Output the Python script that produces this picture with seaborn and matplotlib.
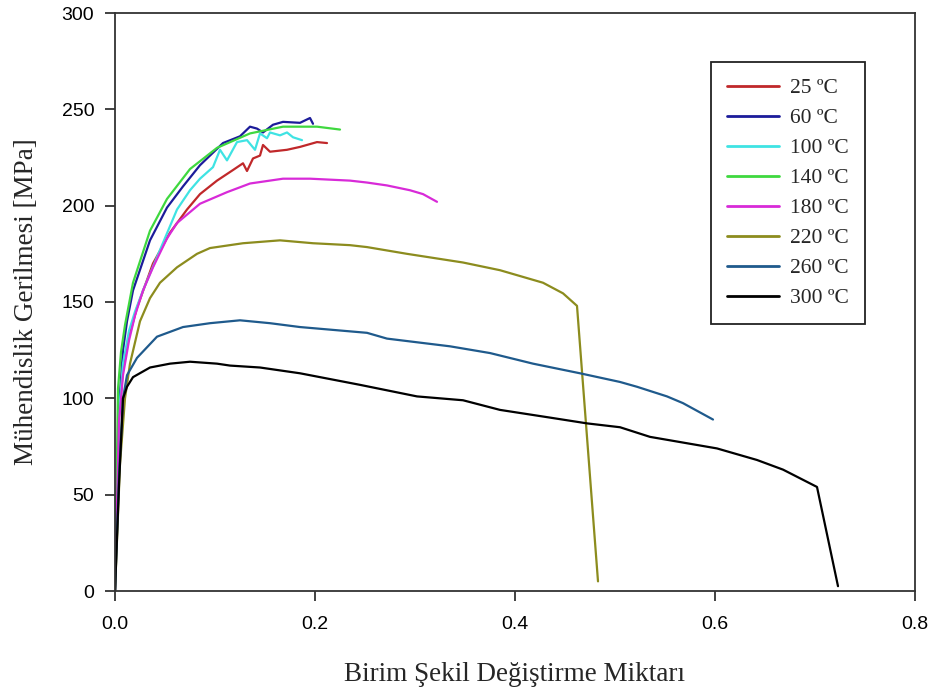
import numpy as np
import pandas as pd
import matplotlib
matplotlib.use("Agg")
import matplotlib.pyplot as plt
import seaborn as sns

# ---------------- data ----------------
labels = ["25 ºC", "60 ºC", "100 ºC", "140 ºC", "180 ºC", "220 ºC", "260 ºC", "300 ºC"]

x25 = [0, 0.004, 0.008, 0.014, 0.022, 0.038, 0.055, 0.072, 0.085, 0.102, 0.118, 0.128, 0.132,
       0.138, 0.145, 0.148, 0.155, 0.172, 0.185, 0.202, 0.212]
y25 = [0, 90, 115, 132, 147, 170, 186, 198, 206, 213, 218.5, 222, 218, 224.5, 226, 231.5, 228,
       229, 230.5, 233, 232.5]

x60 = [0, 0.004, 0.008, 0.012, 0.018, 0.035, 0.052, 0.068, 0.085, 0.108, 0.125, 0.135, 0.142,
       0.148, 0.158, 0.168, 0.185, 0.195, 0.198]
y60 = [0, 95, 125, 140, 156, 182, 199, 210, 221, 232.5, 236, 241, 240, 238, 242, 243.5, 243,
       245.5, 242.5]

x100 = [0, 0.004, 0.008, 0.014, 0.020, 0.028, 0.045, 0.062, 0.075, 0.085, 0.098, 0.105, 0.112,
        0.122, 0.132, 0.140, 0.145, 0.152, 0.155, 0.165, 0.172, 0.178, 0.187]
y100 = [0, 92, 118, 135, 145, 156, 177, 198, 208, 214, 220, 229, 223.5, 233, 234, 229, 237.5,
        235, 238, 236.5, 238, 235.5, 234]

x140 = [0, 0.003, 0.006, 0.010, 0.018, 0.035, 0.052, 0.075, 0.102, 0.135, 0.168, 0.202, 0.225]
y140 = [0, 105, 124, 138, 160, 187, 203.5, 219, 230, 237.5, 241, 241, 239.5]

x180 = [0, 0.004, 0.008, 0.014, 0.020, 0.028, 0.038, 0.052, 0.062, 0.085, 0.112, 0.135, 0.168,
        0.195, 0.235, 0.252, 0.272, 0.295, 0.308, 0.322]
y180 = [0, 88, 112, 130, 143, 156, 168, 183, 191, 201, 207, 211.5, 214, 214, 213, 212, 210.5,
        208, 206, 202]

x220 = [0, 0.005, 0.010, 0.015, 0.025, 0.035, 0.045, 0.062, 0.082, 0.095, 0.128, 0.165, 0.198,
        0.235, 0.252, 0.292, 0.348, 0.385, 0.428, 0.448, 0.462, 0.483]
y220 = [0, 66, 100, 118, 140, 152, 160, 168, 175, 178, 180.5, 182, 180.5, 179.5, 178.5, 175,
        170.5, 166.5, 160, 154.5, 148, 5]

x260 = [0, 0.004, 0.008, 0.012, 0.022, 0.042, 0.068, 0.095, 0.125, 0.155, 0.185, 0.252, 0.272,
        0.335, 0.375, 0.418, 0.465, 0.505, 0.522, 0.552, 0.568, 0.598]
y260 = [0, 60, 100, 112, 121, 132, 137, 139, 140.5, 139, 137, 134, 131, 127, 123.5, 118, 113,
        108.5, 106, 101, 97.5, 89]

x300 = [0, 0.004, 0.008, 0.012, 0.018, 0.035, 0.055, 0.075, 0.102, 0.115, 0.145, 0.185, 0.245,
        0.302, 0.348, 0.385, 0.435, 0.472, 0.505, 0.535, 0.602, 0.642, 0.668, 0.702, 0.723]
y300 = [0, 55, 100, 106, 111, 116, 118, 119, 118, 117, 116, 113, 107, 101, 99, 94, 90, 87, 85,
        80, 74, 68, 63, 54, 2.5]

xs = [x25, x60, x100, x140, x180, x220, x260, x300]
ys = [y25, y60, y100, y140, y180, y220, y260, y300]

colors = ["#c0282a", "#1c1c9a", "#3fe3e3", "#3fd83f", "#d82ad8", "#8c8c1e", "#1f5a8c", "#000000"]

xticks = [0.0, 0.2, 0.4, 0.6, 0.8]
yticks = [0, 50, 100, 150, 200, 250, 300]

# ---------------- build table ----------------
frames = []
for lab, x, y in zip(labels, xs, ys):
    frames.append(pd.DataFrame({"strain": x, "stress": y, "temp": lab}))
df = pd.concat(frames, ignore_index=True)

# ---------------- plot ----------------
sns.set_style("ticks")
plt.rcParams["font.family"] = ["Liberation Sans", "DejaVu Sans"]
serif = ["Liberation Serif", "DejaVu Serif"]

fig = plt.figure(figsize=(9.36, 6.93), dpi=100)
ax = fig.add_axes([115 / 936, 1 - 591 / 693, 800 / 936, 578 / 693])

sns.lineplot(data=df, x="strain", y="stress", hue="temp", hue_order=labels,
             palette=colors, sort=False, estimator=None, linewidth=1.6, ax=ax)

ax.set_xlim(0, 0.8)
ax.set_ylim(0, 300)
ax.set_xticks(xticks)
ax.set_xticklabels([f"{t:.1f}" for t in xticks])
ax.set_yticks(yticks)
ax.set_yticklabels([str(t) for t in yticks])

for s in ax.spines.values():
    s.set_visible(True)
    s.set_color("#333333")
    s.set_linewidth(1.3)

ax.tick_params(axis="x", direction="out", length=7, width=1.3, pad=11, labelsize=14,
               colors="#333333", labelcolor="black")
ax.tick_params(axis="y", direction="out", length=7, width=1.3, pad=8, labelsize=14,
               colors="#333333", labelcolor="black")

ax.set_xlabel("Birim Şekil Değiştirme Miktarı", family=serif, fontsize=19.5, labelpad=21)
ax.set_ylabel("Mühendislik Gerilmesi [MPa]", family=serif, fontsize=19.5, labelpad=16)

handles, labs = ax.get_legend_handles_labels()
for h in handles:
    h.set_linewidth(2)
leg = ax.legend(handles, labs, loc="upper left", bbox_to_anchor=(0.745, 0.915),
                frameon=True, fancybox=False, edgecolor="#222222", framealpha=1,
                prop={"family": serif, "size": 15.5},
                handlelength=2.4, handletextpad=0.5, labelspacing=0.46, borderpad=0.75,
                borderaxespad=0)
leg.get_frame().set_linewidth(1.3)

fig.savefig("out.png", dpi=100)
